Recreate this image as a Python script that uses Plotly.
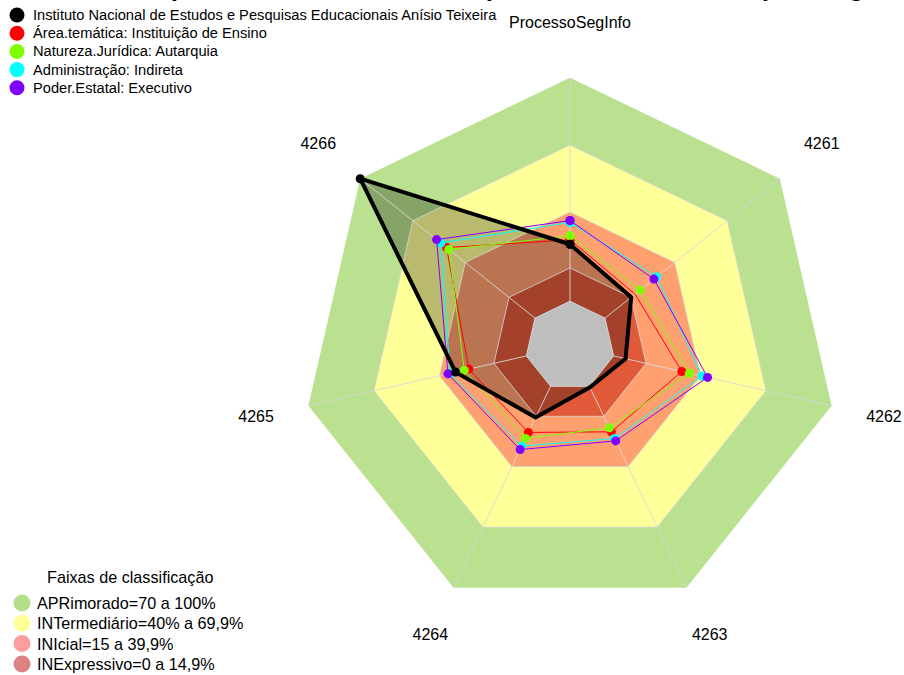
import plotly.graph_objects as go

# Axes of the radar (clockwise from the top)
categories = ["ProcessoSegInfo", "4261", "4262", "4263", "4264", "4265", "4266"]

# Scores (%) per axis for the institution and for each of its groups
inep = [25.5, 15.0, 5.5, 0.5, 15.5, 32.5, 100.0]
area_tematica = [27.5, 17.2, 31.3, 22.6, 22.9, 26.4, 50.6]
natureza_juridica = [29.3, 20.1, 34.8, 20.6, 25.9, 28.5, 49.3]
administracao = [35.3, 29.6, 40.5, 25.9, 29.7, 35.0, 53.9]
poder_estatal = [36.1, 28.0, 43.1, 27.1, 31.4, 36.0, 56.3]

series_names = [
    "Instituto Nacional de Estudos e Pesquisas Educacionais Anísio Teixeira",
    "Área.temática: Instituição de Ensino",
    "Natureza.Jurídica: Autarquia",
    "Administração: Indireta",
    "Poder.Estatal: Executivo",
]
series_values = [inep, area_tematica, natureza_juridica, administracao, poder_estatal]
series_colors = ["#000000", "#FF0000", "#7FFF00", "#00FFFF", "#8000FF"]

# Classification bands (upper limit of each band, %)
band_upper = [100.0, 69.9, 39.9, 14.9]
band_fill = ["#B9E18F", "#FFFF99", "#FFA070", "#E05A3A"]
band_title = "Faixas de classificação"
band_labels = [
    "APRimorado=70 a 100%",
    "INTermediário=40% a 69,9%",
    "INIcial=15 a 39,9%",
    "INExpressivo=0 a 14,9%",
]
band_legend_colors = ["#B5DD8C", "#FFFF9A", "#FF9C9C", "#DC8282"]

chart_title = "Comparativo dos indicadores por natureza, esfera e pelo órgão"

radial_min = -20
radial_max = 124   # room for the axis labels
label_r = 124

FONT = "Arial, Liberation Sans, sans-serif"
W, H = 904, 675
cx, cy, rad = 570, 346, 322


def closed(values):
    return list(values) + [values[0]]


theta_closed = closed(categories)

fig = go.Figure()

# Background bands (outermost first)
for upper, color in zip(band_upper, band_fill):
    fig.add_trace(go.Scatterpolar(
        r=[upper] * len(theta_closed), theta=theta_closed,
        mode="lines", fill="toself", fillcolor=color,
        line=dict(width=0, color=color), hoverinfo="skip", showlegend=False,
    ))

# Shaded area of the institution
fig.add_trace(go.Scatterpolar(
    r=closed(inep), theta=theta_closed, mode="lines", fill="toself",
    fillcolor="rgba(0,0,0,0.27)", line=dict(width=0, color="rgba(0,0,0,0)"),
    hoverinfo="skip", showlegend=False,
))

# Centre (below zero)
fig.add_trace(go.Scatterpolar(
    r=[0] * len(theta_closed), theta=theta_closed, mode="lines", fill="toself",
    fillcolor="#BEBEBE", line=dict(width=1, color="#D6D6D6"),
    hoverinfo="skip", showlegend=False,
))

# Grid: band outlines and spokes
for upper in band_upper[1:]:
    fig.add_trace(go.Scatterpolar(
        r=[upper] * len(theta_closed), theta=theta_closed, mode="lines",
        line=dict(width=1, color="rgba(215,215,215,0.8)"),
        hoverinfo="skip", showlegend=False,
    ))
spoke_r, spoke_t = [], []
for c in categories:
    spoke_r += [0, 100, None]
    spoke_t += [c, c, None]
fig.add_trace(go.Scatterpolar(
    r=spoke_r, theta=spoke_t, mode="lines", connectgaps=False,
    line=dict(width=1, color="rgba(215,215,215,0.9)"),
    hoverinfo="skip", showlegend=False,
))

# Group series (thin), then the institution on top (thick)
for name, vals, col in list(zip(series_names, series_values, series_colors))[1:]:
    fig.add_trace(go.Scatterpolar(
        r=closed(vals), theta=theta_closed, mode="lines+markers", name=name,
        line=dict(width=1, color=col), marker=dict(size=9, color=col),
        showlegend=False,
    ))
fig.add_trace(go.Scatterpolar(
    r=closed(inep), theta=theta_closed, mode="lines+markers", name=series_names[0],
    line=dict(width=4, color="#000000"), marker=dict(size=9, color="#000000"),
    showlegend=False,
))

# Axis labels
fig.add_trace(go.Scatterpolar(
    r=[label_r] * len(categories), theta=categories, mode="text", text=categories,
    textfont=dict(family=FONT, size=16, color="#000000"), cliponaxis=False,
    hoverinfo="skip", showlegend=False,
))

# Keys, drawn on a pixel-scaled overlay axis
top_x, top_y0, top_step = 17, 15, 18.2
bot_x, bot_y0, bot_step = 22, 603, 20.3

fig.add_trace(go.Scatter(
    x=[top_x] * len(series_names),
    y=[top_y0 + i * top_step for i in range(len(series_names))],
    mode="markers", marker=dict(size=15, color=series_colors),
    hoverinfo="skip", showlegend=False, cliponaxis=False,
))
fig.add_trace(go.Scatter(
    x=[bot_x] * len(band_labels),
    y=[bot_y0 + i * bot_step for i in range(len(band_labels))],
    mode="markers", marker=dict(size=17, color=band_legend_colors),
    hoverinfo="skip", showlegend=False, cliponaxis=False,
))

annotations = []
for i, name in enumerate(series_names):
    annotations.append(dict(
        text=name, x=top_x + 14, y=top_y0 + i * top_step, xref="x", yref="y",
        xanchor="left", yanchor="middle", showarrow=False,
        font=dict(family=FONT, size=14.67, color="#000000"),
    ))
for i, name in enumerate(band_labels):
    annotations.append(dict(
        text=name, x=bot_x + 13, y=bot_y0 + i * bot_step, xref="x", yref="y",
        xanchor="left", yanchor="middle", showarrow=False,
        font=dict(family=FONT, size=16.2, color="#000000"),
    ))
annotations.append(dict(
    text=band_title, x=130, y=bot_y0 - 26, xref="x", yref="y",
    xanchor="center", yanchor="middle", showarrow=False,
    font=dict(family=FONT, size=16.2, color="#000000"),
))
annotations.append(dict(
    text="<b>" + chart_title + "</b>",
    xref="paper", yref="paper", x=504 / W, y=1, xanchor="center", yanchor="bottom",
    yshift=-4, showarrow=False, font=dict(family=FONT, size=26, color="#000000"),
))

fig.update_layout(
    width=W, height=H,
    margin=dict(l=0, r=0, t=0, b=0),
    paper_bgcolor="white", plot_bgcolor="rgba(0,0,0,0)",
    font=dict(family=FONT, size=14, color="#000000"),
    showlegend=False,
    xaxis=dict(domain=[0, 1], range=[0, W], visible=False, fixedrange=True),
    yaxis=dict(domain=[0, 1], range=[H, 0], visible=False, fixedrange=True),
    polar=dict(
        domain=dict(x=[(cx - rad) / W, (cx + rad) / W],
                    y=[1 - (cy + rad) / H, 1 - (cy - rad) / H]),
        bgcolor="rgba(0,0,0,0)",
        gridshape="linear",
        radialaxis=dict(range=[radial_min, radial_max], visible=False),
        angularaxis=dict(type="category", categoryarray=categories,
                         direction="clockwise", rotation=90,
                         showgrid=False, showline=False, showticklabels=False,
                         ticks=""),
    ),
    annotations=annotations,
)

fig.write_html("out.html")
